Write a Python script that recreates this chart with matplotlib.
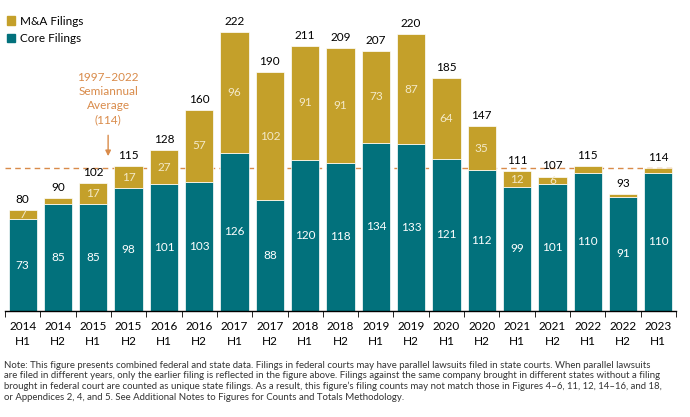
import matplotlib.pyplot as plt
import numpy as np

periods = ["2014\nH1", "2014\nH2", "2015\nH1", "2015\nH2", "2016\nH1", "2016\nH2",
           "2017\nH1", "2017\nH2", "2018\nH1", "2018\nH2", "2019\nH1", "2019\nH2",
           "2020\nH1", "2020\nH2", "2021\nH1", "2021\nH2", "2022\nH1", "2022\nH2",
           "2023\nH1"]
core = [73, 85, 85, 98, 101, 103, 126, 88, 120, 118, 134, 133, 121, 112, 99, 101, 110, 91, 110]
mna = [7, 5, 17, 17, 27, 57, 96, 102, 91, 91, 73, 87, 64, 35, 12, 6, 5, 2, 4]
average = 114

teal = "#02717C"
gold = "#C4A02A"
orange = "#D98B4A"

plt.rcParams['font.family'] = ['Lato', 'DejaVu Sans']

fig = plt.figure(figsize=(6.9, 4.17), dpi=100)
ax = fig.add_axes([5/690, 1 - 311/417, 671/690, 311/417])

x = np.arange(len(periods))
totals = [c + m for c, m in zip(core, mna)]
ax.bar(x, core, width=0.8, color=teal, edgecolor='white', linewidth=0.5, zorder=2)
ax.bar(x, mna, bottom=core, width=0.8, color=gold, edgecolor='white', linewidth=0.5, zorder=2)

for i in range(len(x)):
    ax.text(x[i], core[i] / 2, str(core[i]), ha='center', va='center', color='white', fontsize=8.5, zorder=3)
    if mna[i] >= 6:
        ax.text(x[i], core[i] + mna[i] / 2, str(mna[i]), ha='center', va='center',
                color='#F3E9C8', fontsize=8.5, zorder=3)
    ax.text(x[i], totals[i] + 4, str(totals[i]), ha='center', va='bottom', color='black', fontsize=8.5, zorder=3)

ax.axhline(average, color=orange, linestyle=(0, (4, 3)), linewidth=1, zorder=1)
ax.text(2.42, 190, "1997\u20132022\nSemiannual\nAverage\n(114)", ha='center', va='top',
        color=orange, fontsize=8.5, linespacing=1.35)
ax.annotate("", xy=(2.42, 121), xytext=(2.42, 142),
            arrowprops=dict(arrowstyle='-|>', color=orange, lw=1, mutation_scale=8))

ax.set_xlim(-0.5, 18.5)
ax.set_ylim(0, 311 / 1.257)
ax.set_yticks([])
ax.set_xticks(x)
ax.set_xticklabels(periods, fontsize=8.5, linespacing=1.45)
ax.tick_params(axis='x', which='major', length=0, pad=7)
ax.set_xticks(np.arange(-0.5, 19, 1), minor=True)
ax.tick_params(axis='x', which='minor', length=4, color='black', direction='out')
for s in ['top', 'right', 'left']:
    ax.spines[s].set_visible(False)
ax.spines['bottom'].set_color('black')
ax.spines['bottom'].set_linewidth(1)
ax.spines['bottom'].set_zorder(4)

from matplotlib.patches import Patch
handles = [Patch(color=gold, label='M&A Filings'), Patch(color=teal, label='Core Filings')]
fig.legend(handles=handles, loc='upper left', bbox_to_anchor=(2/690, 1 - 11/417), frameon=False,
           fontsize=8.5, handlelength=0.7, handleheight=0.7, handletextpad=0.4, labelspacing=0.55,
           borderaxespad=0)

note = ("Note: This figure presents combined federal and state data. Filings in federal courts may have parallel lawsuits filed in state courts. When parallel lawsuits\n"
        "are filed in different years, only the earlier filing is reflected in the figure above. Filings against the same company brought in different states without a filing\n"
        "brought in federal court are counted as unique state filings. As a result, this figure\u2019s filing counts may not match those in Figures 4\u20136, 11, 12, 14\u201316, and 18,\n"
        "or Appendices 2, 4, and 5. See Additional Notes to Figures for Counts and Totals Methodology.")
fig.text(4/690, 1 - 361/417, note, ha='left', va='top', fontsize=6.95, color='#333333', linespacing=1.2)

fig.savefig("out.png", dpi=100)
